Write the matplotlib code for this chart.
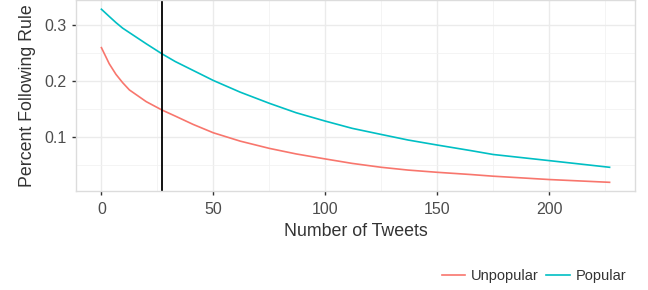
import numpy as np
import matplotlib
matplotlib.use('Agg')
import matplotlib.pyplot as plt
from matplotlib.ticker import MultipleLocator

# values
tweets = [0, 3.5, 6.5, 9.5, 12.5, 20, 27, 33, 41, 50, 62, 75, 87, 100, 112,
          125, 137, 150, 165, 175, 200, 227]
popular = [0.329, 0.316, 0.305, 0.295, 0.287, 0.267, 0.249, 0.235, 0.219,
           0.201, 0.180, 0.160, 0.143, 0.128, 0.115, 0.104, 0.094, 0.085,
           0.075, 0.068, 0.057, 0.045]
unpopular = [0.260, 0.231, 0.212, 0.197, 0.184, 0.163, 0.148, 0.137, 0.122,
             0.107, 0.092, 0.079, 0.069, 0.060, 0.052, 0.045, 0.040, 0.036,
             0.032, 0.029, 0.023, 0.018]
cutoff = 27

series_names = ['Unpopular', 'Popular']
series_colors = ['#F8766D', '#00BFC4']

plt.rcParams['font.family'] = ['Liberation Sans', 'DejaVu Sans']

fig = plt.figure(figsize=(6.48, 2.9), dpi=100)
ax = fig.add_axes([76 / 648, 99 / 290, (635 - 76) / 648, 191 / 290])

lines = []
for name, vals, col in zip(series_names, [unpopular, popular], series_colors):
    ln, = ax.plot(tweets, vals, color=col, lw=1.2, label=name,
                  solid_joinstyle='round')
    lines.append(ln)

ax.axvline(cutoff, color='black', lw=1.3)

ax.set_xlim(-11.35, 238.35)
ax.set_ylim(0.0024, 0.3456)
ax.xaxis.set_major_locator(MultipleLocator(50))
ax.xaxis.set_minor_locator(MultipleLocator(25))
ax.yaxis.set_minor_locator(MultipleLocator(0.05))
ax.set_yticks([0.1, 0.2, 0.3])
ax.set_yticklabels(['0.1', '0.2', '0.3'])

ax.grid(which='major', color='#ebebeb', lw=1.0)
ax.grid(which='minor', color='#f2f2f2', lw=0.6)
ax.set_axisbelow(True)
for s in ax.spines.values():
    s.set_color('#dcdcdc')
    s.set_linewidth(1.0)
ax.tick_params(which='major', length=3, width=1, color='#333333',
               labelcolor='#4d4d4d', labelsize=11.5)
ax.tick_params(axis='x', pad=5)
ax.tick_params(axis='y', pad=4)
ax.tick_params(which='minor', length=0)

ax.set_xlabel('Number of Tweets', fontsize=12.8, color='#333333', labelpad=4)
ax.set_ylabel('Percent Following Rule', fontsize=12.8, color='#333333',
              labelpad=6)

fig.legend(lines, series_names, ncol=2, loc='center right',
           bbox_to_anchor=(626 / 648, 14 / 290), frameon=False,
           fontsize=10.5, handlelength=1.6, handletextpad=0.4,
           columnspacing=0.5, borderaxespad=0, borderpad=0)
for t in fig.legends[0].get_texts():
    t.set_color('#333333')

fig.savefig('out.png', dpi=100)
